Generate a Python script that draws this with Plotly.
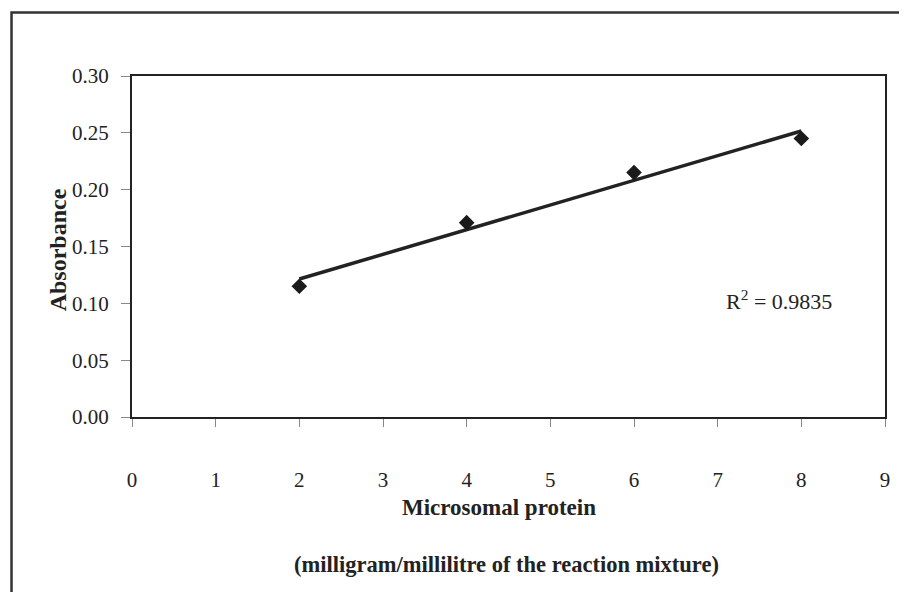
import numpy as np
import plotly.graph_objects as go

# Data
protein = [2, 4, 6, 8]
absorbance = [0.115, 0.171, 0.215, 0.245]
x_ticks = [0, 1, 2, 3, 4, 5, 6, 7, 8, 9]
y_ticks = [0.00, 0.05, 0.10, 0.15, 0.20, 0.25, 0.30]
r2_label = "R<sup>2</sup> = 0.9835"

# Linear trendline from data
slope, intercept = np.polyfit(protein, absorbance, 1)
trend_x = [min(protein), max(protein)]
trend_y = [slope * v + intercept for v in trend_x]

FONT = "Liberation Serif, Times New Roman, serif"

fig = go.Figure()
fig.add_trace(go.Scatter(x=trend_x, y=trend_y, mode="lines",
                         line=dict(color="#222222", width=3.5), showlegend=False))
fig.add_trace(go.Scatter(x=protein, y=absorbance, mode="markers",
                         marker=dict(symbol="diamond", size=12, color="#1a1a1a"),
                         showlegend=False))

fig.update_layout(
    width=891, height=584,
    margin=dict(l=124, r=9, t=68, b=175),
    paper_bgcolor="white", plot_bgcolor="white",
    font=dict(family=FONT, color="#222222", size=21),
    xaxis=dict(range=[0, 9], tickvals=x_ticks, ticktext=[str(v) for v in x_ticks],
               showgrid=False, zeroline=False, showline=True, linecolor="#222222",
               linewidth=2, mirror=True, ticks="outside", ticklen=8, tickcolor="#888888",
               tickwidth=1, ticklabelstandoff=35, tickfont=dict(size=21)),
    yaxis=dict(range=[0, 0.30], tickvals=y_ticks, ticktext=[f"{v:.2f}" for v in y_ticks],
               showgrid=False, zeroline=False, showline=True, linecolor="#222222",
               linewidth=2, mirror=True, ticks="outside", ticklen=9, tickcolor="#888888",
               tickwidth=1, ticklabelstandoff=8, tickfont=dict(size=21)),
    shapes=[dict(type="rect", xref="paper", yref="paper",
                 x0=-0.160, x1=1.03, y0=-0.56, y1=1.186,
                 line=dict(color="#333333", width=2.5), layer="below")],
    annotations=[
        dict(text="<b>Microsomal protein</b>", xref="paper", yref="paper",
             x=0.488, y=-0.264, xanchor="center", yanchor="middle", showarrow=False,
             font=dict(size=23)),
        dict(text="<b>(milligram/millilitre of the reaction mixture)</b>", xref="paper", yref="paper",
             x=0.497, y=-0.434, xanchor="center", yanchor="middle", showarrow=False,
             font=dict(size=22.5)),
        dict(text="<b>Absorbance</b>", xref="paper", yref="paper",
             x=-0.099, y=0.49, xanchor="center", yanchor="middle", showarrow=False,
             textangle=-90, font=dict(size=24)),
        dict(text=r2_label, xref="x", yref="y", x=7.08, y=0.103,
             xanchor="left", yanchor="middle", showarrow=False, font=dict(size=22)),
    ],
)

fig.write_html("out.html")
